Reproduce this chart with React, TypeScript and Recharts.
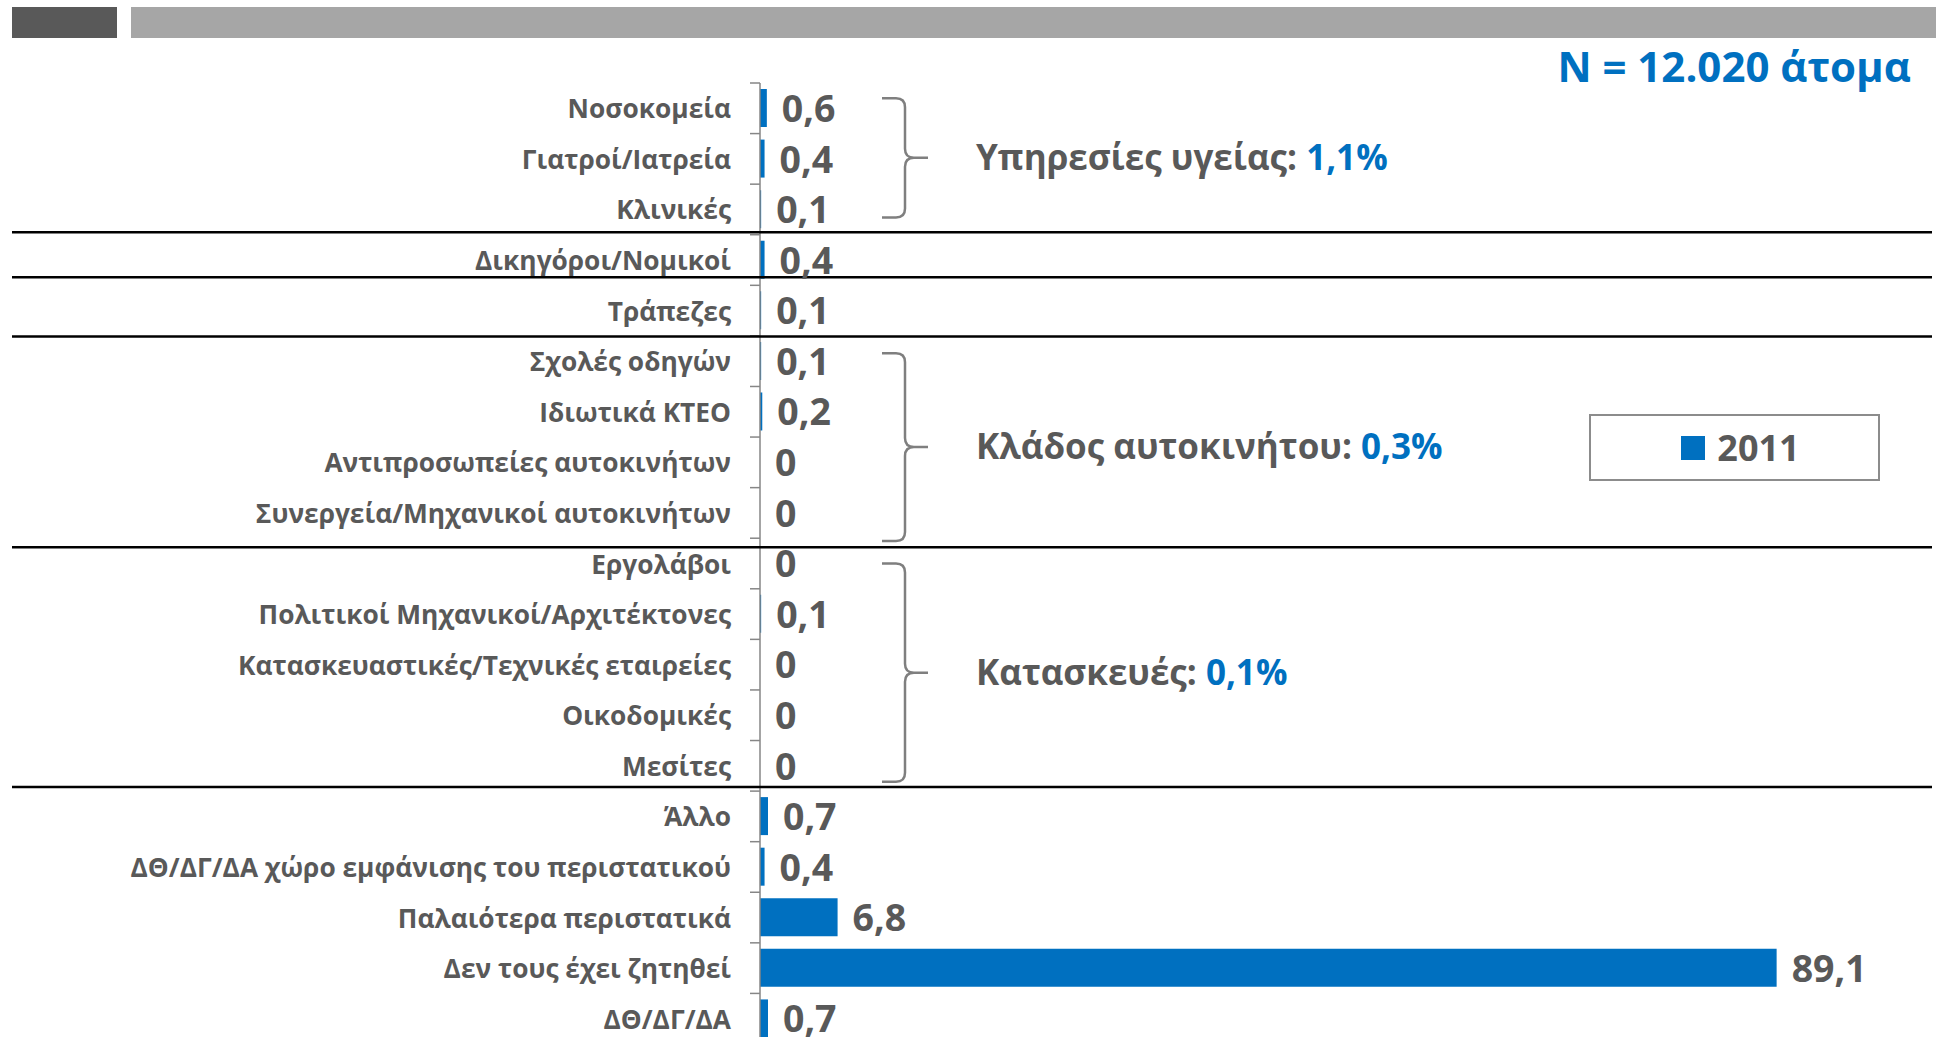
import React from 'react';
import { BarChart, Bar, XAxis, YAxis, LabelList } from 'recharts';

// ---------- data ----------
const categories = [
  'Νοσοκομεία',
  'Γιατροί/Ιατρεία',
  'Κλινικές',
  'Δικηγόροι/Νομικοί',
  'Τράπεζες',
  'Σχολές οδηγών',
  'Ιδιωτικά ΚΤΕΟ',
  'Αντιπροσωπείες αυτοκινήτων',
  'Συνεργεία/Μηχανικοί αυτοκινήτων',
  'Εργολάβοι',
  'Πολιτικοί Μηχανικοί/Αρχιτέκτονες',
  'Κατασκευαστικές/Τεχνικές εταιρείες',
  'Οικοδομικές',
  'Μεσίτες',
  'Άλλο',
  'ΔΘ/ΔΓ/ΔΑ χώρο εμφάνισης του περιστατικού',
  'Παλαιότερα περιστατικά',
  'Δεν τους έχει ζητηθεί',
  'ΔΘ/ΔΓ/ΔΑ',
];
const values2011 = [0.6, 0.4, 0.1, 0.4, 0.1, 0.1, 0.2, 0, 0, 0, 0.1, 0, 0, 0, 0.7, 0.4, 6.8, 89.1, 0.7];
const seriesName = '2011';

const groupNames = ['Υπηρεσίες υγείας', 'Κλάδος αυτοκινήτου', 'Κατασκευές'];
const groupTotals = [1.1, 0.3, 0.1];
const groupFirst = [0, 5, 9];
const groupLast = [2, 8, 13];
const separatorBefore = [3, 4, 5, 9, 14];
const sampleLabel = 'N = 12.020 άτομα';

// ---------- layout / style ----------
const W = 1936;
const H = 1100;
const M_TOP = 83;
const M_BOTTOM = 56;
const M_RIGHT = 35;
const YAXIS_W = 760;
const AXIS_X = YAXIS_W;
const PLOT_H = H - M_TOP - M_BOTTOM;
const BAND = PLOT_H / categories.length;
const FONT = "'Open Sans', 'Noto Sans', sans-serif";
const GREY = '#595959';
const BLUE = '#0070C0';
const sepOffsets = [-2.5, -8, 0.5, 9, -4];
const braceTopOff = [-10, -8, 0];
const braceBotOff = [8, 28, 16];

const fmt = (v: number) => String(v).replace('.', ',');

const data = categories.map((c, i) => ({ name: c, v2011: values2011[i] }));

const Brace = ({ top, bottom }: { top: number; bottom: number }) => {
  const xl = 882;
  const xv = 905;
  const xt = 928;
  const mid = (top + bottom) / 2;
  const r = 9;
  const d = `M ${xl} ${top} L ${xv - r} ${top} Q ${xv} ${top} ${xv} ${top + r} L ${xv} ${mid - r} Q ${xv} ${mid} ${xv + r} ${mid} L ${xt} ${mid} M ${xv + r} ${mid} Q ${xv} ${mid} ${xv} ${mid + r} L ${xv} ${bottom - r} Q ${xv} ${bottom} ${xv - r} ${bottom} L ${xl} ${bottom}`;
  return <path d={d} fill="none" stroke="#7f7f7f" strokeWidth={2.5} />;
};

const CustomTick = (props: any) => {
  const { y, payload } = props;
  const i = categories.indexOf(payload.value);
  const els: React.ReactNode[] = [];
  els.push(
    <text key="t" x={AXIS_X - 29} y={y + 10} textAnchor="end" fontFamily={FONT} fontWeight={700} fontSize={26.3} fill={GREY}>
      {payload.value}
    </text>
  );
  els.push(<line key="tk" x1={AXIS_X - 10} x2={AXIS_X} y1={y - BAND / 2} y2={y - BAND / 2} stroke="#868686" strokeWidth={1.5} />);
  if (i === categories.length - 1) {
    els.push(<line key="tk2" x1={AXIS_X - 10} x2={AXIS_X} y1={y + BAND / 2} y2={y + BAND / 2} stroke="#868686" strokeWidth={1.5} />);
  }
  const si = separatorBefore.indexOf(i);
  if (si >= 0) {
    const yy = y - BAND / 2 + sepOffsets[si];
    els.push(<line key="sep" x1={12} x2={1932} y1={yy} y2={yy} stroke="#000" strokeWidth={2.5} />);
  }
  const gi = groupFirst.indexOf(i);
  if (gi >= 0) {
    const top = y + braceTopOff[gi];
    const bottom = y + (groupLast[gi] - groupFirst[gi]) * BAND + braceBotOff[gi];
    const mid = (top + bottom) / 2;
    els.push(<Brace key="br" top={top} bottom={bottom} />);
    els.push(
      <text key="gt" x={976} y={mid + 12} fontFamily={FONT} fontWeight={700} fontSize={35} fill={GREY}>
        {groupNames[gi]}:{' '}
        <tspan fill={BLUE}>{fmt(groupTotals[gi])}%</tspan>
      </text>
    );
  }
  return <g>{els}</g>;
};

const ValueLabel = (props: any) => {
  const { x, y, width, height, value } = props;
  return (
    <text x={x + width + 15} y={y + height / 2 + 14} fontFamily={FONT} fontWeight={700} fontSize={37.5} fill={GREY}>
      {fmt(value)}
    </text>
  );
};

const LegendBox = () => (
  <div
    style={{
      position: 'absolute',
      left: 1589,
      top: 414,
      width: 291,
      height: 67,
      boxSizing: 'border-box',
      border: '2px solid #8c8c8c',
      display: 'flex',
      alignItems: 'center',
      justifyContent: 'center',
      paddingLeft: 12,
      fontFamily: FONT,
      fontWeight: 700,
      fontSize: 36,
      color: GREY,
      background: '#fff',
    }}
  >
    <span style={{ display: 'inline-block', width: 24, height: 24, background: BLUE, marginRight: 12 }} />
    <span>{seriesName}</span>
  </div>
);

export default function App() {
  return (
    <div style={{ position: 'absolute', left: 0, top: 0, width: W, height: 1037, overflow: 'hidden', background: '#fff' }}>
      <svg width={W} height={100} style={{ position: 'absolute', left: 0, top: 0 }}>
        <rect x={12} y={7} width={105} height={31} fill="#595959" />
        <rect x={131} y={7} width={W - 131} height={31} fill="#A6A6A6" />
        <text x={1911} y={82} textAnchor="end" fontFamily={FONT} fontWeight={700} fontSize={42} fill={BLUE}>
          {sampleLabel}
        </text>
      </svg>
      <div style={{ position: 'absolute', left: 0, top: 0 }}>
        <BarChart
          width={W}
          height={H}
          data={data}
          layout="vertical"
          margin={{ top: M_TOP, right: M_RIGHT, bottom: M_BOTTOM, left: 0 }}
          barSize={38}
        >
          <XAxis type="number" domain={[0, 100]} hide />
          <YAxis
            type="category"
            dataKey="name"
            width={YAXIS_W}
            interval={0}
            tickLine={false}
            axisLine={{ stroke: '#868686', strokeWidth: 1.5 }}
            tick={<CustomTick />}
          />
          <Bar
            dataKey="v2011"
            name={seriesName}
            fill={BLUE}
            isAnimationActive={false}
            minPointSize={(v: number) => (v === 0 ? 0.01 : 0)}
          >
            <LabelList dataKey="v2011" content={<ValueLabel />} />
          </Bar>
        </BarChart>
      </div>
      <LegendBox />
    </div>
  );
}
